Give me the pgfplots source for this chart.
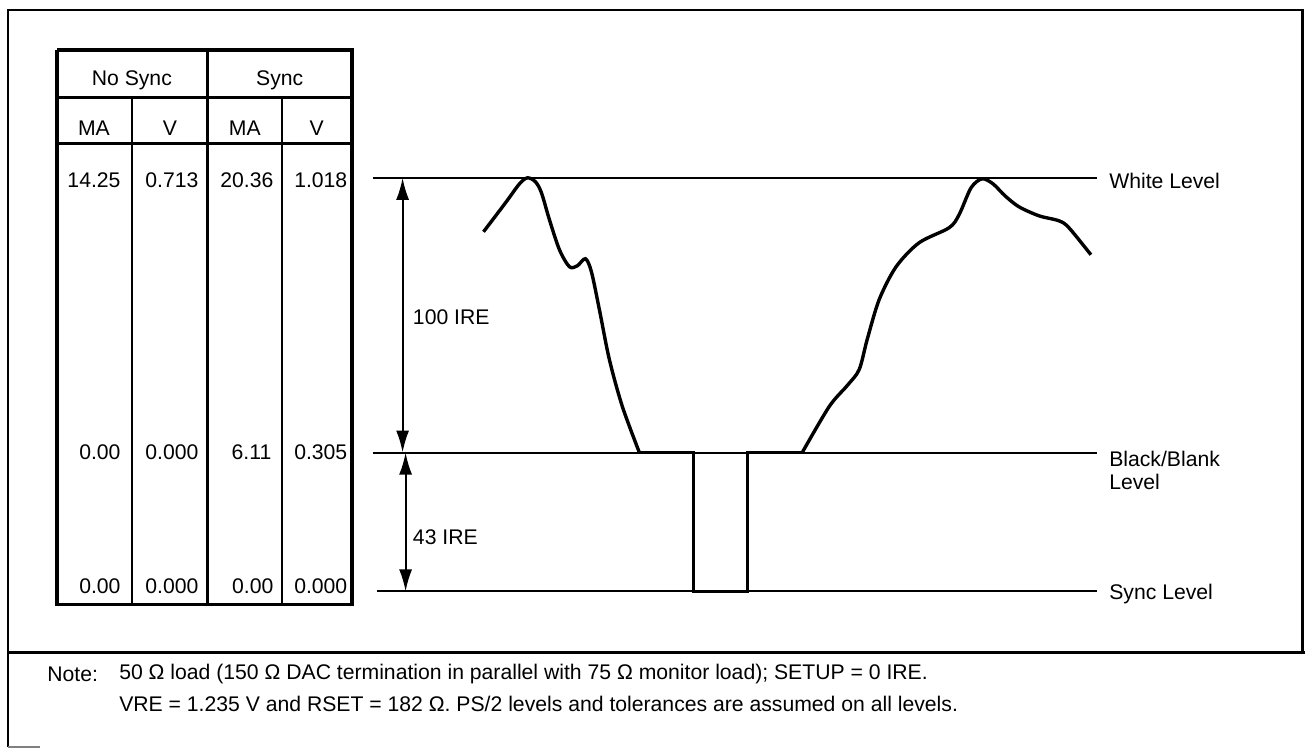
\documentclass[border=0pt]{standalone}
\usepackage{pgfplots}
\pgfplotsset{compat=1.18}
\usepackage{fontspec}
\setmainfont{Liberation Sans}
\usetikzlibrary{arrows.meta}
\begin{document}
\begin{tikzpicture}
\begin{axis}[
  scale only axis, width=653pt, height=375.5pt,
  xmin=0, xmax=1306, ymin=0, ymax=751, y dir=reverse,
  hide axis, clip=false,
  every axis plot/.append style={black, mark=none},
  nodes={font=\fontsize{10.6}{12.7}\selectfont, inner sep=0pt},
]
% outer frame
\addplot[line width=1.3pt] coordinates {(8,748) (8,10) (1304,10) (1304,653)};
\addplot[line width=1.3pt] coordinates {(8,653) (1306,653)};
\addplot[line width=0.8pt, gray] coordinates {(8,748) (40,748)};
% table
\addplot[line width=1.9pt] coordinates {(57,50) (352,50) (352,605) (57,605) (57,50)};
\addplot[line width=1.5pt] coordinates {(57,98) (352,98)};
\addplot[line width=1.5pt] coordinates {(57,144) (352,144)};
\addplot[line width=1.7pt] coordinates {(208,50) (208,605)};
\addplot[line width=1.2pt] coordinates {(132,98) (132,605)};
\addplot[line width=1.2pt] coordinates {(282,98) (282,605)};
\node at (axis cs:132,80) {No Sync};
\node at (axis cs:280,80) {Sync};
\node at (axis cs:94,128) {MA};
\node at (axis cs:170,128) {V};
\node at (axis cs:245,128) {MA};
\node at (axis cs:317,128) {V};
\node[anchor=east] at (axis cs:121,180) {14.25};
\node[anchor=east] at (axis cs:199,180) {0.713};
\node[anchor=east] at (axis cs:274,180) {20.36};
\node[anchor=east] at (axis cs:348,180) {1.018};
\node[anchor=east] at (axis cs:121,453) {0.00};
\node[anchor=east] at (axis cs:199,453) {0.000};
\node[anchor=east] at (axis cs:272,453) {6.11};
\node[anchor=east] at (axis cs:348,453) {0.305};
\node[anchor=east] at (axis cs:121,587) {0.00};
\node[anchor=east] at (axis cs:199,587) {0.000};
\node[anchor=east] at (axis cs:274,587) {0.00};
\node[anchor=east] at (axis cs:348,587) {0.000};
% level lines
\addplot[line width=1pt] coordinates {(373,178) (1098,178)};
\addplot[line width=1pt] coordinates {(373,453) (1098,453)};
\addplot[line width=1pt] coordinates {(377,592) (1098,592)};
\node[anchor=west] at (axis cs:1110,181) {White Level};
\node[anchor=west] at (axis cs:1110,459) {Black/Blank};
\node[anchor=west] at (axis cs:1110,482) {Level};
\node[anchor=west] at (axis cs:1110,595) {Sync Level};
% arrows
\addplot[line width=1pt, {Latex[length=11pt,width=6.5pt]}-{Latex[length=11pt,width=6.5pt]}] coordinates {(403,178) (403,453)};
\addplot[line width=1pt, {Latex[length=11pt,width=6.5pt]}-{Latex[length=11pt,width=6.5pt]}] coordinates {(406,453) (406,592)};
\node[anchor=west] at (axis cs:413,318) {100 IRE};
\node[anchor=west] at (axis cs:413,538) {43 IRE};
% waveform
\addplot[line width=1.7pt, smooth, tension=0.5] coordinates {
 (484,232) (506,203) (520,184) (528,178) (536,182) (542,193) (550,220) (560,250)
 (570,267) (578,266) (586,259) (592,272) (600,310) (610,360) (623,407) (640,453)};
\addplot[line width=1.7pt] coordinates {
 (640,453) (694,453) (694,592) (748,592) (748,453) (803,453)};
\addplot[line width=1.7pt, smooth, tension=0.5] coordinates {
 (803,453) (830,407) (848,386) (860,370) (868,340) (880,300) (897,267) (920,243)
 (950,228) (960,215) (972,188) (983,179) (994,184) (1006,196) (1020,207) (1040,216)
 (1060,221) (1070,228) (1092,255)};
% note
\node[anchor=west] at (axis cs:47,675) {Note:};
\node[anchor=west] at (axis cs:119,675) {50 Ω load (150 Ω DAC termination in parallel with 75 Ω monitor load); SETUP = 0 IRE.};
\node[anchor=west] at (axis cs:119,705) {VRE = 1.235 V and RSET = 182 Ω. PS/2 levels and tolerances are assumed on all levels.};
\end{axis}
\path (current axis.south west) rectangle (current axis.north east);
\end{tikzpicture}
\end{document}
